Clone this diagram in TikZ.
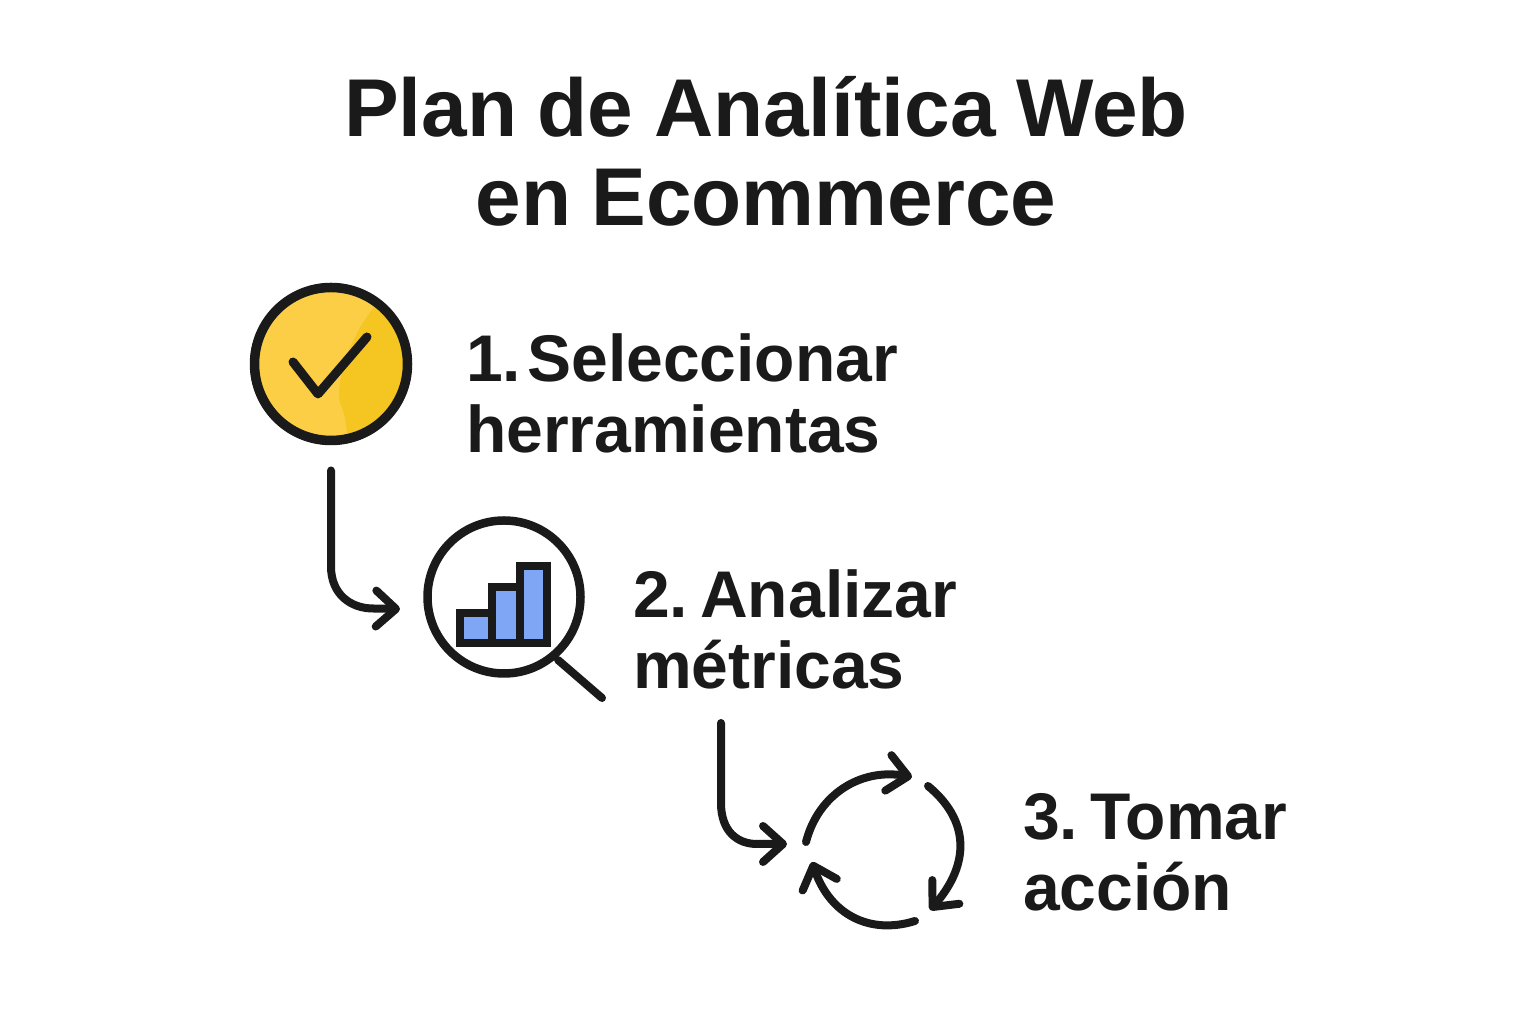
\documentclass[tikz,border=0pt]{standalone}
\usepackage{fontspec}
\setmainfont{Liberation Sans}
\usetikzlibrary{arrows.meta}
\definecolor{inkblack}{HTML}{1A1A1A}
\definecolor{yellowlight}{HTML}{FBCE45}
\definecolor{yellowdark}{HTML}{F5C521}
\definecolor{barblue}{HTML}{7FA6F5}
\newcommand{\titlefont}{\fontsize{82}{89}\selectfont\bfseries\spaceskip 20.5pt\relax}
\newcommand{\stepfont}{\fontsize{66}{71}\selectfont\bfseries\spaceskip 6pt\relax}
\tikzset{icon/.style={circle, draw=inkblack, line width=8.5pt, minimum size=153pt, inner sep=0pt, outer sep=0pt},
	flowline/.style={draw=inkblack, line width=8pt, line cap=round, -{Straight Barb[length=20pt,width=36pt,round]}},
	inkline/.style={draw=inkblack, line width=7.5pt, line cap=round, line join=round},
	steplabel/.style={anchor=west, align=left, inner sep=0pt, text=inkblack, font=\stepfont}}

\begin{document}
\begin{tikzpicture}[x=1pt,y=1pt]
		\useasboundingbox (0,0) rectangle (1536,1024);
		\node[anchor=center, align=center, inner sep=0pt, text=inkblack, font=\titlefont] (title) at (766,873) {Plan de Analítica Web\\en Ecommerce}; %Title
		% first step
		\node[icon, fill=yellowlight] (check) at (331,660) {};
		\begin{scope}
			\clip (331,660) circle (76pt);
			\fill[yellowdark] (377,720) .. controls (350,690) and (335,640) .. (340,621) .. controls (345,610) and (347,600) .. (347,585) -- (420,585) -- (420,720) -- cycle; %Darker side
		\end{scope}
		\node[icon, line width=9.5pt] (checkring) at (check) {};
		\draw[inkline, line width=9pt] (293,662) -- (318,630) -- (367,687); %Tick
		\node[steplabel] (stepone) at (466,631) {1.\kern-6pt{} Seleccionar\\herramientas};
		% second step
		\node[icon] (lens) at (504,427) {};
		\draw[inkline, line width=8pt] (558,364) -- (602,326); %Handle
		\foreach \x/\w/\t in {460/32/411, 492/28/437, 520/27/458}
		\draw[inkline, fill=barblue, line join=miter] (\x,381) rectangle ++(\w,\t-381); %Puts a bar
		\node[steplabel] (steptwo) at (633,395) {2. Analizar\\métricas};
		% third step
		\draw[flowline] (806,182) .. controls (818,229) and (860,256) .. (912,247); %Top arc
		\draw[flowline] (928,238) .. controls (975,199) and (965,154) .. (930,114); %Right arc
		\draw[flowline] (915,103) .. controls (870,89) and (830,109) .. (812,162); %Bottom arc
		\node[steplabel] (stepthree) at (1023,172) {3. Tomar\\acción};
		% connectors
		\coordinate (tipone) at (400,415);
		\coordinate (starttwo) at (721,301);
		\coordinate (tiptwo) at (787,180);
		\draw[flowline, shorten <=30pt] (check.south) -- ++(0,-126) .. controls +(0,-28) and +(-22,0) .. ++(42,-42) -- (tipone);
		\draw[flowline] (starttwo) -- ++(0,-80) .. controls +(0,-28) and +(-20,0) .. ++(36,-41) -- (tiptwo);
	\end{tikzpicture}
\end{document}
